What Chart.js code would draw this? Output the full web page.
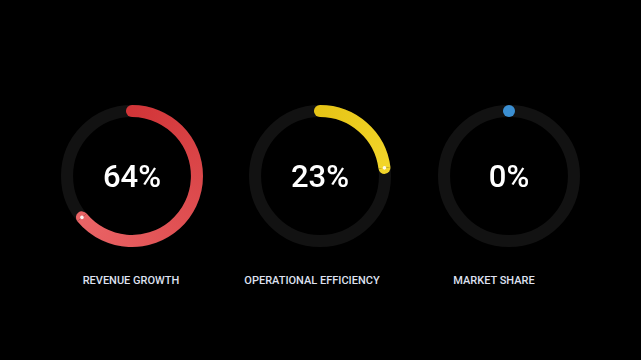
<!DOCTYPE html>
<html>
<head>
<meta charset="utf-8">
<script src="https://cdn.jsdelivr.net/npm/chart.js@4/dist/chart.umd.min.js"></script>
<style>
  html, body { margin:0; padding:0; background:#000; width:641px; height:360px; overflow:hidden; }
  .g { position:absolute; width:160px; height:160px; }
  .pct { position:absolute; width:160px; text-align:center; color:#fff; font-family:Roboto, "Noto Sans", sans-serif; font-weight:500; font-size:31px; line-height:32px; }
  .lbl { position:absolute; width:200px; text-align:center; color:#dfe1f0; font-family:Roboto, "Noto Sans", sans-serif; font-weight:500; font-size:11px; line-height:12px; }
</style>
</head>
<body>
<script>
const categories = ['REVENUE GROWTH', 'OPERATIONAL EFFICIENCY', 'MARKET SHARE'];
const values = [64, 23, 0];
const startColors = ['#d23538', '#e6c416', '#3b8fd2'];
const endColors = ['#ea6466', '#f3d62a', '#3b8fd2'];
const gaugeCentersX = [132, 320, 509];
const gaugeCenterY = 176;
const labelCentersX = [131, 312, 494];
const labelY = 281;
const trackColor = '#121212';

const trackPlugin = {
  id: 'track',
  beforeDatasetsDraw(chart) {
    const arc = chart.getDatasetMeta(0).data[0];
    if (!arc) return;
    const c = chart.ctx;
    const mid = (arc.innerRadius + arc.outerRadius) / 2;
    c.save();
    c.beginPath();
    c.arc(arc.x, arc.y, mid, 0, Math.PI * 2);
    c.lineWidth = arc.outerRadius - arc.innerRadius;
    c.strokeStyle = trackColor;
    c.stroke();
    c.restore();
  }
};

const capPlugin = {
  id: 'caps',
  afterDatasetsDraw(chart, args, opts) {
    const arc = chart.getDatasetMeta(0).data[0];
    if (!arc) return;
    const c = chart.ctx;
    const th = arc.outerRadius - arc.innerRadius;
    const mid = (arc.innerRadius + arc.outerRadius) / 2;
    const pt = (a) => [arc.x + Math.cos(a) * mid, arc.y + Math.sin(a) * mid];
    c.save();
    if (opts.value === 0) {
      const [x, y] = pt(arc.startAngle);
      c.beginPath();
      c.arc(x, y, th / 2, 0, Math.PI * 2);
      c.fillStyle = opts.start;
      c.fill();
    } else {
      // rounded start cap (bulges backwards)
      let [x, y] = pt(arc.startAngle);
      c.beginPath();
      c.arc(x, y, th / 2, arc.startAngle - Math.PI, arc.startAngle);
      c.closePath();
      c.fillStyle = opts.start;
      c.fill();
      // rounded end cap (bulges forwards)
      [x, y] = pt(arc.endAngle);
      c.beginPath();
      c.arc(x, y, th / 2, arc.endAngle, arc.endAngle + Math.PI);
      c.closePath();
      c.fillStyle = opts.end;
      c.fill();
      // small white marker at the end
      c.beginPath();
      c.arc(x, y, 1.8, 0, Math.PI * 2);
      c.fillStyle = 'rgba(255,255,255,0.92)';
      c.fill();
    }
    c.restore();
  }
};

categories.forEach((name, i) => {
  const cx = gaugeCentersX[i];
  const wrap = document.createElement('div');
  wrap.className = 'g';
  wrap.style.left = (cx - 80) + 'px';
  wrap.style.top = (gaugeCenterY - 80) + 'px';
  const cv = document.createElement('canvas');
  cv.width = 160; cv.height = 160;
  wrap.appendChild(cv);
  document.body.appendChild(wrap);

  const pct = document.createElement('div');
  pct.className = 'pct';
  pct.textContent = values[i] + '%';
  pct.style.left = (cx - 80) + 'px';
  pct.style.top = (gaugeCenterY + 1 - 16) + 'px';
  document.body.appendChild(pct);

  const lbl = document.createElement('div');
  lbl.className = 'lbl';
  lbl.textContent = name;
  lbl.style.left = (labelCentersX[i] - 100) + 'px';
  lbl.style.top = (labelY - 6) + 'px';
  document.body.appendChild(lbl);

  const v = values[i];
  const chart = new Chart(cv, {
    type: 'doughnut',
    data: {
      labels: [name, ''],
      datasets: [{
        data: [v, 100 - v],
        backgroundColor: [startColors[i], 'rgba(0,0,0,0)'],
        borderWidth: 0,
        borderRadius: 0
      }]
    },
    options: {
      responsive: false,
      animation: false,
      cutout: '83%',
      layout: { padding: 9 },
      plugins: {
        legend: { display: false },
        tooltip: { enabled: false },
        caps: { value: v, start: startColors[i], end: endColors[i] }
      },
      events: []
    },
    plugins: [trackPlugin, capPlugin]
  });

  if (v > 0) {
    const arc = chart.getDatasetMeta(0).data[0];
    const g = chart.ctx.createConicGradient(-Math.PI / 2, arc.x, arc.y);
    g.addColorStop(0, startColors[i]);
    g.addColorStop(v / 100, endColors[i]);
    g.addColorStop(1, endColors[i]);
    chart.data.datasets[0].backgroundColor = [g, 'rgba(0,0,0,0)'];
    chart.update('none');
  }
});
</script>
</body>
</html>
